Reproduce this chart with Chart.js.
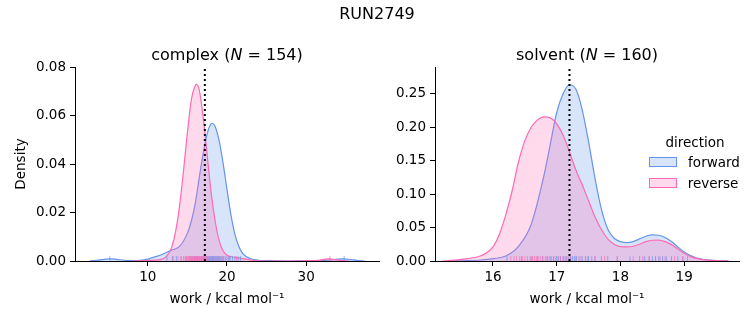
<!DOCTYPE html>
<html>
<head>
<meta charset="utf-8">
<script src="https://cdn.jsdelivr.net/npm/chart.js@4.4.1/dist/chart.umd.min.js"></script>
<style>
  body { margin: 0; background: #fff; font-family: "DejaVu Sans", sans-serif; color: #000; }
  #fig { position: relative; width: 753px; height: 325px; overflow: hidden; }
  canvas { position: absolute; top: 0; }
  .txt { position: absolute; white-space: nowrap; transform: translate(-50%, -50%); }
  .big { font-size: 16px; }
  .leg { font-size: 13.5px; }
  .patch { position: absolute; width: 26px; height: 8px; }
</style>
</head>
<body>
<div id="fig">
  <canvas id="complexChart" width="395" height="325" style="left:0px"></canvas>
  <canvas id="solventChart" width="358" height="325" style="left:395px"></canvas>

  <div class="txt big" style="left:377px; top:13px">RUN2749</div>
  <div class="txt big" style="left:227px; top:54px">complex (<i>N</i> = 154)</div>
  <div class="txt big" style="left:587px; top:54px">solvent (<i>N</i> = 160)</div>

  <div class="txt leg" style="left:695px; top:142px">direction</div>
  <div class="patch" style="left:649px; top:157px; background:rgba(100,149,237,0.25); border:1.3px solid #6495ed"></div>
  <div class="txt leg" style="left:714px; top:162px">forward</div>
  <div class="patch" style="left:649px; top:178px; background:rgba(255,105,180,0.25); border:1.3px solid #ff69b4"></div>
  <div class="txt leg" style="left:713px; top:183px">reverse</div>
</div>

<script>
// valores de referencia (linea punteada)
const refWork = 17.2;

// complex: curvas de densidad
const complexFwdX = [2.6, 3.5, 4.5, 5.2, 6, 7, 8, 9, 10, 11, 12, 13, 14, 15, 15.5, 16, 16.5, 17, 17.5, 18, 18.15, 18.5, 19, 19.5, 20, 20.5, 21, 21.5, 22, 23, 24, 26, 28, 30, 32, 33, 34, 34.8, 35.6, 36.5, 37.4];
const complexFwdY = [0.0000, 0.0003, 0.0007, 0.0009, 0.0007, 0.0003, 0.0002, 0.0003, 0.0008, 0.0018, 0.0030, 0.0045, 0.0060, 0.0115, 0.0165, 0.0240, 0.0345, 0.0445, 0.0525, 0.0566, 0.0568, 0.0555, 0.0497, 0.0405, 0.0295, 0.0190, 0.0110, 0.0060, 0.0030, 0.0009, 0.0003, 0.0001, 0.0000, 0.0001, 0.0002, 0.0005, 0.0008, 0.0009, 0.0006, 0.0002, 0.0000];
const complexRevX = [8, 9, 10, 11, 12, 12.5, 13, 13.5, 14, 14.5, 15, 15.5, 16, 16.15, 16.5, 17, 17.5, 18, 18.5, 19, 19.5, 20, 21, 22, 23, 24, 26, 28, 30, 31.5, 32.5, 33, 33.6, 34.5, 35.5];
const complexRevY = [0.0000, 0.0001, 0.0002, 0.0004, 0.0010, 0.0025, 0.0055, 0.0120, 0.0225, 0.0370, 0.0530, 0.0665, 0.0724, 0.0728, 0.0705, 0.0590, 0.0435, 0.0282, 0.0165, 0.0085, 0.0042, 0.0024, 0.0015, 0.0010, 0.0004, 0.0001, 0.0000, 0.0000, 0.0001, 0.0003, 0.0008, 0.0009, 0.0006, 0.0002, 0.0000];

// complex: valores individuales (rug)
const complexFwdRug = [5.2, 12.4, 13.1, 13.6, 14.2, 14.8, 15.3, 15.6, 15.9, 16.1, 16.3, 16.5, 16.7, 16.8, 17.0, 17.1, 17.3, 17.4, 17.5, 17.6, 17.7, 17.8, 17.9, 18.0, 18.1, 18.15, 18.2, 18.3, 18.4, 18.5, 18.6, 18.7, 18.8, 18.9, 19.0, 19.1, 19.2, 19.35, 19.5, 19.6, 19.8, 20.0, 20.2, 20.4, 20.7, 21.0, 21.4, 21.7, 34.8];
const complexRevRug = [13.2, 13.8, 14.2, 14.5, 14.7, 14.9, 15.0, 15.1, 15.2, 15.3, 15.4, 15.5, 15.55, 15.6, 15.7, 15.8, 15.85, 15.9, 16.0, 16.05, 16.1, 16.2, 16.25, 16.3, 16.4, 16.5, 16.6, 16.7, 16.8, 16.9, 17.0, 17.1, 17.2, 17.4, 17.6, 17.8, 18.1, 18.5, 19.0, 19.4, 20.3, 21.2, 33.0];

// solvent: curvas de densidad
const solventFwdX = [15.3, 15.6, 15.8, 16.0, 16.2, 16.4, 16.6, 16.8, 16.9, 17.0, 17.1, 17.2, 17.3, 17.4, 17.5, 17.6, 17.7, 17.8, 17.9, 18.0, 18.1, 18.2, 18.3, 18.4, 18.5, 18.6, 18.7, 18.8, 18.9, 19.0, 19.1, 19.2, 19.4, 19.6, 19.7];
const solventFwdY = [0.0000, 0.0006, 0.0015, 0.0035, 0.0075, 0.0220, 0.0550, 0.1280, 0.1750, 0.2220, 0.2500, 0.2635, 0.2570, 0.2260, 0.1780, 0.1240, 0.0780, 0.0480, 0.0340, 0.0290, 0.0275, 0.0290, 0.0330, 0.0370, 0.0390, 0.0385, 0.0350, 0.0290, 0.0210, 0.0135, 0.0080, 0.0045, 0.0012, 0.0002, 0.0000];
const solventRevX = [15.2, 15.4, 15.6, 15.8, 15.9, 16.0, 16.1, 16.2, 16.3, 16.4, 16.5, 16.6, 16.7, 16.8, 16.9, 17.0, 17.1, 17.2, 17.3, 17.4, 17.5, 17.6, 17.7, 17.8, 17.9, 18.0, 18.1, 18.2, 18.3, 18.4, 18.5, 18.6, 18.7, 18.8, 18.9, 19.0, 19.1, 19.2, 19.4, 19.6, 19.7];
const solventRevY = [0.0000, 0.0012, 0.0035, 0.0075, 0.0125, 0.0210, 0.0400, 0.0690, 0.1050, 0.1480, 0.1800, 0.2000, 0.2110, 0.2155, 0.2140, 0.2050, 0.1880, 0.1630, 0.1360, 0.1140, 0.0900, 0.0660, 0.0470, 0.0330, 0.0250, 0.0215, 0.0210, 0.0220, 0.0250, 0.0290, 0.0310, 0.0312, 0.0290, 0.0245, 0.0180, 0.0115, 0.0065, 0.0035, 0.0008, 0.0001, 0.0000];

// solvent: valores individuales (rug)
const solventFwdRug = [16.22, 16.45, 16.6, 16.7, 16.78, 16.85, 16.9, 16.95, 17.0, 17.03, 17.06, 17.1, 17.13, 17.16, 17.19, 17.22, 17.25, 17.28, 17.31, 17.35, 17.4, 17.45, 17.5, 17.55, 17.6, 17.7, 17.8, 17.95, 18.15, 18.3, 18.38, 18.45, 18.5, 18.55, 18.6, 18.66, 18.72, 18.8, 18.9, 18.98, 19.05];
const solventRevRug = [16.28, 16.33, 16.37, 16.42, 16.46, 16.5, 16.54, 16.58, 16.62, 16.65, 16.68, 16.72, 16.75, 16.78, 16.82, 16.85, 16.88, 16.92, 16.95, 16.98, 17.02, 17.06, 17.1, 17.15, 17.22, 17.3, 17.38, 17.48, 17.6, 17.75, 17.95, 18.2, 18.35, 18.45, 18.55, 18.62, 18.7, 18.85, 18.98];

// ticks
const complexXTicks = [10, 20, 30];
const complexYTicks = [0, 0.02, 0.04, 0.06, 0.08];
const solventXTicks = [16, 17, 18, 19];
const solventYTicks = [0, 0.05, 0.10, 0.15, 0.20, 0.25];

const BLUE = '#6495ed';
const PINK = '#ff69b4';

Chart.defaults.font.family = '"DejaVu Sans", sans-serif';
Chart.defaults.font.size = 13.5;
Chart.defaults.color = '#000';

function pts(xs, ys) {
    return xs.map((x, i) => ({ x: x, y: ys[i] }));
}

function makeChart(canvasId, cfg) {
    const ctx = document.getElementById(canvasId).getContext('2d');
    const rugY = cfg.yMax * 0.0125;
    const rug = (vals, color) => ({
        data: vals.map(v => ({ x: v, y: rugY })),
        showLine: false,
        pointStyle: 'line',
        rotation: 90,
        pointRadius: 2.4,
        pointBorderWidth: 1,
        pointBorderColor: color,
        pointBackgroundColor: color,
        pointHoverRadius: 0
    });
    const kde = (data, color, fillColor) => ({
        data: data,
        borderColor: color,
        backgroundColor: fillColor,
        borderWidth: 1.2,
        fill: 'origin',
        pointRadius: 0,
        cubicInterpolationMode: 'monotone'
    });

    return new Chart(ctx, {
        type: 'line',
        data: {
            datasets: [
                // linea punteada (arriba de todo)
                {
                    data: [{ x: refWork, y: 0 }, { x: refWork, y: cfg.yMax }],
                    borderColor: '#000',
                    borderWidth: 2,
                    borderDash: [2, 3],
                    pointRadius: 0,
                    fill: false
                },
                rug(cfg.revRug, 'rgba(255,105,180,0.7)'),
                rug(cfg.fwdRug, 'rgba(100,149,237,0.7)'),
                kde(cfg.rev, PINK, 'rgba(255,105,180,0.25)'),
                kde(cfg.fwd, BLUE, 'rgba(100,149,237,0.25)')
            ]
        },
        options: {
            responsive: false,
            animation: false,
            devicePixelRatio: 1,
            layout: { padding: { top: 67, right: cfg.padRight, left: 0, bottom: 0 } },
            plugins: { legend: { display: false }, tooltip: { enabled: false } },
            scales: {
                x: {
                    type: 'linear',
                    min: cfg.xMin,
                    max: cfg.xMax,
                    afterBuildTicks: s => { s.ticks = cfg.xTicks.map(v => ({ value: v })); },
                    afterFit: s => { s.height = 64; },
                    grid: { drawOnChartArea: false, tickLength: 5, tickColor: '#000', tickWidth: 1 },
                    border: { color: '#000', width: 1 },
                    ticks: { padding: 3, maxRotation: 0, callback: v => String(v) },
                    title: { display: true, text: 'work / kcal mol⁻¹', padding: { top: 0, bottom: 17 } }
                },
                y: {
                    min: 0,
                    max: cfg.yMax,
                    afterBuildTicks: s => { s.ticks = cfg.yTicks.map(v => ({ value: v })); },
                    afterFit: s => { s.width = cfg.yWidth; },
                    grid: { drawOnChartArea: false, tickLength: 5, tickColor: '#000', tickWidth: 1 },
                    border: { color: '#000', width: 1 },
                    ticks: { padding: 4, callback: v => v.toFixed(2) },
                    title: { display: cfg.yTitle, text: 'Density', padding: { top: 13, bottom: 0 } }
                }
            }
        }
    });
}

const complexChart = makeChart('complexChart', {
    fwd: pts(complexFwdX, complexFwdY),
    rev: pts(complexRevX, complexRevY),
    fwdRug: complexFwdRug,
    revRug: complexRevRug,
    xMin: 0.8, xMax: 39.2, yMax: 0.08,
    xTicks: complexXTicks, yTicks: complexYTicks,
    yWidth: 75, padRight: 16, yTitle: true
});

const solventChart = makeChart('solventChart', {
    fwd: pts(solventFwdX, solventFwdY),
    rev: pts(solventRevX, solventRevY),
    fwdRug: solventFwdRug,
    revRug: solventRevRug,
    xMin: 15.09, xMax: 19.86, yMax: 0.29,
    xTicks: solventXTicks, yTicks: solventYTicks,
    yWidth: 40, padRight: 14, yTitle: false
});
</script>
</body>
</html>
